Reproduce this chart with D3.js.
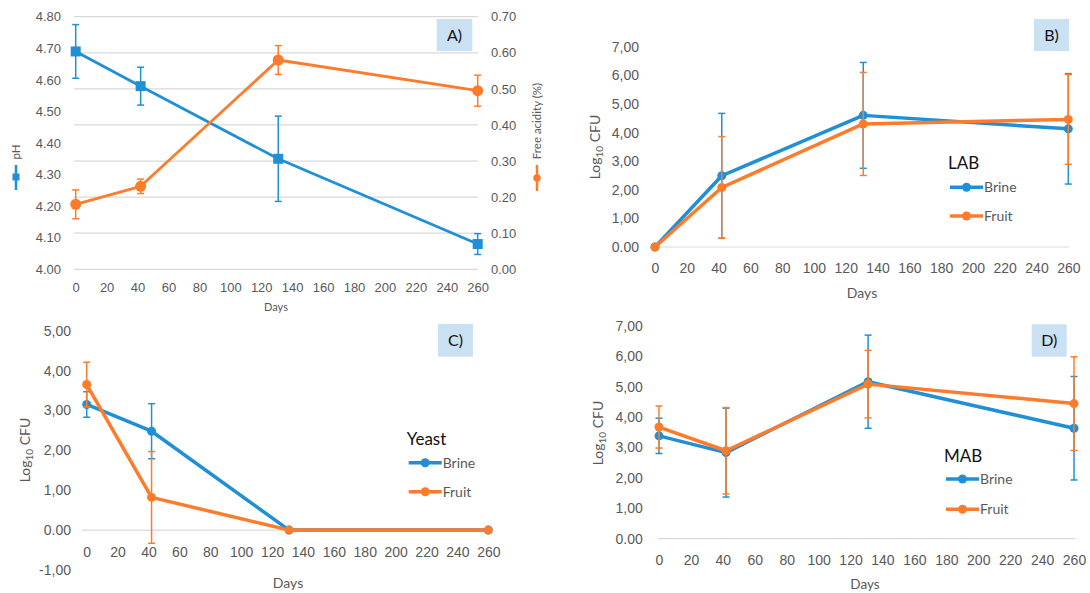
<!DOCTYPE html>
<html><head><meta charset="utf-8">
<script src="https://cdn.jsdelivr.net/npm/d3@7"></script>
<style>
html,body{margin:0;padding:0;background:#fff;}
svg{display:block;font-family:Lato,"Open Sans",sans-serif;}
</style></head>
<body>
<svg id="chart" width="1090" height="593"></svg>
<script>
// ---------- DATA ----------
const days = [0, 42, 131, 260];
const xTicks = [0,20,40,60,80,100,120,140,160,180,200,220,240,260];

// Panel A
const pH = [4.69, 4.58, 4.35, 4.08];
const pHErr = [0.085, 0.06, 0.135, 0.033];
const acidity = [0.18, 0.23, 0.58, 0.495];
const acidityErr = [0.04, 0.02, 0.04, 0.043];
const pHTicks = [4.00,4.10,4.20,4.30,4.40,4.50,4.60,4.70,4.80];
const acidityTicks = [0,0.1,0.2,0.3,0.4,0.5,0.6,0.7];

// Panel B (LAB)
const labBrine = [0, 2.49, 4.60, 4.13];
const labBrineErr = [0, 2.18, 1.85, 1.93];
const labFruit = [0, 2.08, 4.30, 4.46];
const labFruitErr = [0, 1.78, 1.80, 1.57];
const labTicks = [0,1,2,3,4,5,6,7];

// Panel C (Yeast)
const yeastBrine = [3.15, 2.48, 0, 0];
const yeastBrineErr = [0.32, 0.69, 0, 0];
const yeastFruit = [3.65, 0.82, 0, 0];
const yeastFruitErr = [0.56, 1.15, 0, 0];
const yeastTicks = [-1,0,1,2,3,4,5];

// Panel D (MAB)
const mabBrine = [3.38, 2.83, 5.16, 3.63];
const mabBrineErr = [0.58, 1.46, 1.53, 1.70];
const mabFruit = [3.67, 2.89, 5.08, 4.44];
const mabFruitErr = [0.69, 1.42, 1.11, 1.54];
const mabTicks = [0,1,2,3,4,5,6,7];

const seriesNames = ["Brine", "Fruit"];

// ---------- STYLE ----------
const BLUE = "#1f90d6", ORANGE = "#fd7c2b", GRAY = "#595959", GRID = "#d9d9d9", BOX = "#c9e1f2";
const svg = d3.select("#chart");

const commaFmt = d => d === 0 ? "0.00" : d.toFixed(2).replace(".", ",");

function drawSeries(g, x, y, vals, errs, color, opt) {
  const pts = days.map((d, i) => ({d, v: vals[i], e: errs[i]}));
  g.append("path").datum(pts)
    .attr("fill", "none").attr("stroke", color).attr("stroke-width", opt.lw)
    .attr("stroke-linejoin", "round")
    .attr("d", d3.line().x(p => x(p.d)).y(p => y(p.v)));
  const eb = g.append("g").attr("stroke", color).attr("stroke-width", 1.5);
  pts.filter(p => p.e > 0).forEach(p => {
    const cx = x(p.d), y1 = y(p.v + p.e), y2 = y(p.v - p.e);
    eb.append("line").attr("x1", cx).attr("x2", cx).attr("y1", y1).attr("y2", y2);
    eb.append("line").attr("x1", cx - 3.5).attr("x2", cx + 3.5).attr("y1", y1).attr("y2", y1);
    eb.append("line").attr("x1", cx - 3.5).attr("x2", cx + 3.5).attr("y1", y2).attr("y2", y2);
  });
  if (opt.marker === "square") {
    g.selectAll(null).data(pts).enter().append("rect")
      .attr("x", p => x(p.d) - opt.ms/2).attr("y", p => y(p.v) - opt.ms/2)
      .attr("width", opt.ms).attr("height", opt.ms).attr("fill", color);
  } else {
    g.selectAll(null).data(pts).enter().append("circle")
      .attr("cx", p => x(p.d)).attr("cy", p => y(p.v)).attr("r", opt.ms/2).attr("fill", color);
  }
}

function xAxis(g, x, yPos, fs) {
  const ax = g.append("g").attr("transform", `translate(0,${yPos})`)
    .call(d3.axisBottom(x).tickValues(xTicks).tickSize(0).tickPadding(0).tickFormat(d3.format("d")));
  ax.select(".domain").remove();
  ax.selectAll("text").attr("fill", GRAY).attr("font-size", fs).attr("dy", "0.35em").attr("y", 0);
}

function yAxisLeft(g, y, xPos, ticks, fmt, fs) {
  const ax = g.append("g").attr("transform", `translate(${xPos},0)`)
    .call(d3.axisLeft(y).tickValues(ticks).tickSize(0).tickPadding(0).tickFormat(fmt));
  ax.select(".domain").remove();
  ax.selectAll("text").attr("fill", GRAY).attr("font-size", fs);
}

function logTitle(g, cx, cy) {
  const t = g.append("text").attr("transform", `translate(${cx},${cy}) rotate(-90)`)
    .attr("text-anchor", "middle").attr("fill", GRAY).attr("font-size", 14).attr("dy", "0.35em");
  t.append("tspan").text("Log");
  t.append("tspan").text("10").attr("font-size", 10).attr("dy", 3);
  t.append("tspan").text(" CFU").attr("dy", -3);
}

function labelBox(g, x0, y0, w, h, txt) {
  g.append("rect").attr("x", x0).attr("y", y0).attr("width", w).attr("height", h).attr("fill", BOX);
  g.append("text").attr("x", x0 + w/2).attr("y", y0 + h/2).attr("dy", "0.35em")
    .attr("text-anchor", "middle").attr("font-size", 16).attr("fill", "#111").text(txt);
}

function legend(g, x0, yTitle, y1, y2, title) {
  g.append("text").attr("x", x0).attr("y", yTitle).attr("dy", "0.35em")
    .attr("font-size", 17).attr("fill", "#111").text(title);
  [[y1, BLUE, seriesNames[0]], [y2, ORANGE, seriesNames[1]]].forEach(([yy, c, name]) => {
    g.append("line").attr("x1", x0 + 2).attr("x2", x0 + 35).attr("y1", yy).attr("y2", yy)
      .attr("stroke", c).attr("stroke-width", 3.5);
    g.append("circle").attr("cx", x0 + 18.5).attr("cy", yy).attr("r", 4.5).attr("fill", c);
    g.append("text").attr("x", x0 + 36).attr("y", yy).attr("dy", "0.35em")
      .attr("font-size", 14).attr("fill", GRAY).text(name);
  });
}

// ---------- PANEL A ----------
{
  const g = svg.append("g");
  const x = d3.scaleLinear().domain([0, 260]).range([75.7, 477.7]);
  const yL = d3.scaleLinear().domain([4.0, 4.8]).range([269.3, 16.7]);
  const yR = d3.scaleLinear().domain([0, 0.7]).range([269.3, 16.7]);
  g.append("g").selectAll("line").data(acidityTicks).enter().append("line")
    .attr("x1", 74).attr("x2", 478).attr("y1", d => yR(d)).attr("y2", d => yR(d))
    .attr("stroke", GRID).attr("stroke-width", 1.2);
  yAxisLeft(g, yL, 61, pHTicks, d3.format(".2f"), 13);
  const axR = g.append("g").attr("transform", "translate(491,0)")
    .call(d3.axisRight(yR).tickValues(acidityTicks).tickSize(0).tickPadding(0).tickFormat(d3.format(".2f")));
  axR.select(".domain").remove();
  axR.selectAll("text").attr("fill", GRAY).attr("font-size", 13);
  xAxis(g, x, 287, 13);
  g.append("text").attr("x", 276).attr("y", 307).attr("dy", "0.35em").attr("text-anchor", "middle")
    .attr("font-size", 11).attr("fill", GRAY).text("Days");
  // pH title + icon
  g.append("text").attr("transform", "translate(16,152) rotate(-90)").attr("text-anchor", "middle")
    .attr("dy", "0.35em").attr("font-size", 11.5).attr("fill", GRAY).text("pH");
  g.append("line").attr("x1", 16).attr("x2", 16).attr("y1", 165).attr("y2", 190).attr("stroke", BLUE).attr("stroke-width", 2.5);
  g.append("rect").attr("x", 12.5).attr("y", 173.5).attr("width", 7).attr("height", 7).attr("fill", BLUE);
  // acidity title + icon
  g.append("text").attr("transform", "translate(537,121) rotate(-90)").attr("text-anchor", "middle")
    .attr("dy", "0.35em").attr("font-size", 11.5).attr("fill", GRAY).text("Free acidity (%)");
  g.append("line").attr("x1", 537).attr("x2", 537).attr("y1", 165).attr("y2", 191).attr("stroke", ORANGE).attr("stroke-width", 2.5);
  g.append("circle").attr("cx", 537).attr("cy", 178).attr("r", 3.8).attr("fill", ORANGE);
  drawSeries(g, x, yL, pH, pHErr, BLUE, {lw: 2.8, marker: "square", ms: 10});
  drawSeries(g, x, yR, acidity, acidityErr, ORANGE, {lw: 2.8, marker: "circle", ms: 11});
  labelBox(g, 436.7, 19, 35.6, 32, "A)");
}

// ---------- PANEL B ----------
{
  const g = svg.append("g");
  const x = d3.scaleLinear().domain([0, 260]).range([655, 1068.3]);
  const y = d3.scaleLinear().domain([0, 7]).range([247, 46.7]);
  g.append("line").attr("x1", 650).attr("x2", 1069).attr("y1", y(0)).attr("y2", y(0)).attr("stroke", GRID).attr("stroke-width", 1.2);
  yAxisLeft(g, y, 639, labTicks, commaFmt, 14);
  xAxis(g, x, 268, 14);
  g.append("text").attr("x", 862).attr("y", 293).attr("dy", "0.35em").attr("text-anchor", "middle")
    .attr("font-size", 14).attr("fill", GRAY).text("Days");
  logTitle(g, 595, 147);
  drawSeries(g, x, y, labBrine, labBrineErr, BLUE, {lw: 3.5, marker: "circle", ms: 9});
  drawSeries(g, x, y, labFruit, labFruitErr, ORANGE, {lw: 3.5, marker: "circle", ms: 9});
  legend(g, 948, 163, 187.3, 216, "LAB");
  labelBox(g, 1034, 19, 35, 32, "B)");
}

// ---------- PANEL C ----------
{
  const g = svg.append("g");
  const x = d3.scaleLinear().domain([0, 260]).range([86.7, 488.3]);
  const y = d3.scaleLinear().domain([-1, 5]).range([570, 330.7]);
  g.append("line").attr("x1", 82).attr("x2", 489).attr("y1", y(0)).attr("y2", y(0)).attr("stroke", GRID).attr("stroke-width", 1.2);
  yAxisLeft(g, y, 71, yeastTicks, commaFmt, 14);
  xAxis(g, x, 551.7, 14);
  g.append("text").attr("x", 288).attr("y", 583).attr("dy", "0.35em").attr("text-anchor", "middle")
    .attr("font-size", 14).attr("fill", GRAY).text("Days");
  logTitle(g, 25, 450);
  drawSeries(g, x, y, yeastBrine, yeastBrineErr, BLUE, {lw: 3.5, marker: "circle", ms: 9});
  drawSeries(g, x, y, yeastFruit, yeastFruitErr, ORANGE, {lw: 3.5, marker: "circle", ms: 9});
  legend(g, 406.7, 439, 462.7, 491.7, "Yeast");
  labelBox(g, 438, 324, 35, 32.7, "C)");
}

// ---------- PANEL D ----------
{
  const g = svg.append("g");
  const x = d3.scaleLinear().domain([0, 260]).range([659, 1074]);
  const y = d3.scaleLinear().domain([0, 7]).range([538.7, 325.7]);
  g.append("line").attr("x1", 658).attr("x2", 1075).attr("y1", y(0)).attr("y2", y(0)).attr("stroke", GRID).attr("stroke-width", 1.2);
  yAxisLeft(g, y, 642.7, mabTicks, commaFmt, 14);
  xAxis(g, x, 560, 14);
  g.append("text").attr("x", 865).attr("y", 584.5).attr("dy", "0.35em").attr("text-anchor", "middle")
    .attr("font-size", 13.5).attr("fill", GRAY).text("Days");
  logTitle(g, 598, 433);
  drawSeries(g, x, y, mabBrine, mabBrineErr, BLUE, {lw: 3.5, marker: "circle", ms: 9});
  drawSeries(g, x, y, mabFruit, mabFruitErr, ORANGE, {lw: 3.5, marker: "circle", ms: 9});
  legend(g, 944, 456, 479, 509.3, "MAB");
  labelBox(g, 1031.7, 324.3, 35, 32.4, "D)");
}
</script>
</body></html>
